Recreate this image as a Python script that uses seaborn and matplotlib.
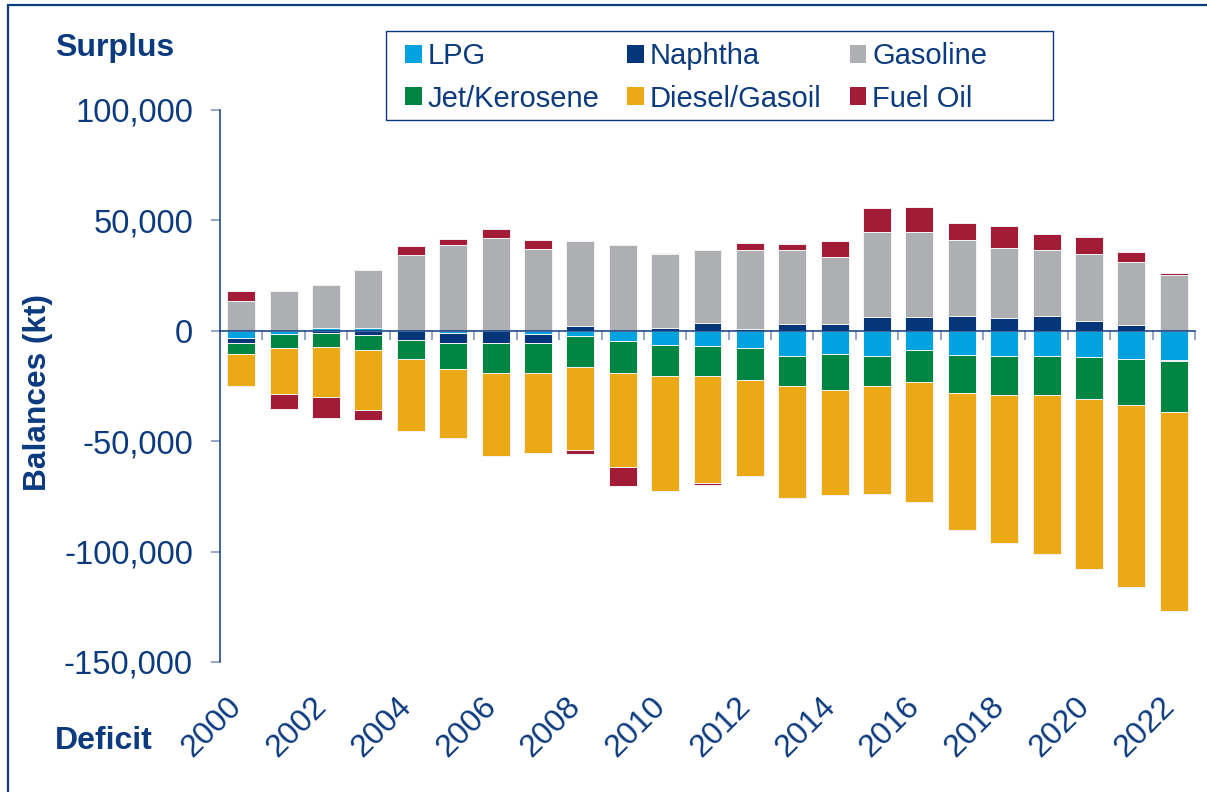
"""
Refined product balances by year, stacked surplus / deficit bars.
"""

import matplotlib

matplotlib.use("Agg")
import matplotlib.pyplot as plt
import matplotlib.transforms as mtransforms
import numpy as np
import pandas as pd
import seaborn as sns
from matplotlib.patches import Patch, Rectangle
from matplotlib.ticker import FuncFormatter

YEARS = [str(y) for y in range(2000, 2023)]
SERIES = ["LPG", "Naphtha", "Gasoline", "Jet/Kerosene", "Diesel/Gasoil", "Fuel Oil"]

lpg = [-3300, -1400, 1200, 1100, 0, -1100, 0, -1500, -2400, -4400, -6500, -7100,
       -7700, -11500, -10600, -11500, -8500, -10900, -11500, -11500, -11800, -12700, -13300]
naphtha = [-2000, 0, -900, -2100, -4100, -4200, -5300, -3800, 2400, 0, 1100, 3600,
           600, 3200, 2900, 6200, 6200, 6600, 5900, 6600, 4500, 2600, -600]
gasoline = [13700, 17800, 19500, 26500, 34300, 38700, 42100, 37100, 38200, 38800, 33800, 33200,
            35900, 33200, 30400, 38700, 38700, 34300, 31600, 30100, 30200, 28500, 25200]
jet = [-5400, -6600, -6650, -6800, -8600, -12200, -13600, -13900, -14200, -14900, -13900, -13300,
       -14600, -13700, -16000, -13600, -14500, -17100, -17700, -17800, -19200, -21100, -22700]
diesel = [-14200, -20800, -22650, -27000, -32500, -31200, -37600, -36100, -37200, -42500, -52300, -48400,
          -43600, -50700, -47800, -49000, -54600, -62400, -66800, -71600, -77000, -82200, -90500]
fuel_oil = [4100, -6500, -9200, -4500, 4200, 3000, 3900, 3800, -2100, -8700, 300, -1200,
            3300, 2900, 7200, 10600, 11300, 7700, 10000, 7100, 8000, 4500, 800]

COLORS = {
    "LPG": "#00A3E0",
    "Naphtha": "#06367A",
    "Gasoline": "#AEAFB3",
    "Jet/Kerosene": "#008542",
    "Diesel/Gasoil": "#EAA915",
    "Fuel Oil": "#A31C37",
}
TEXT = "#0B3A7E"
W, H = 1207, 792


def main():
    sns.set_theme(style="white")
    plt.rcParams["font.family"] = ["Liberation Sans", "DejaVu Sans"]

    df = pd.DataFrame(
        dict(zip(SERIES, [lpg, naphtha, gasoline, jet, diesel, fuel_oil])), index=YEARS
    )
    pos = df.clip(lower=0).cumsum(axis=1)
    neg = df.clip(upper=0).cumsum(axis=1)

    fig = plt.figure(figsize=(W / 100, H / 100), dpi=100)
    ax = fig.add_axes([220 / W, 1 - 662 / H, 975 / W, 552 / H])

    # overlay cumulative totals, outermost layer first
    for part in (pos, neg):
        for name in reversed(SERIES):
            sns.barplot(
                x=YEARS, y=part[name].values, order=YEARS, color=COLORS[name],
                saturation=1, width=0.66, errorbar=None, edgecolor="#f4f4f4",
                linewidth=0.7, ax=ax,
            )

    ax.set_xlim(-0.5, 22.5)
    ax.set_ylim(-150000, 100000)
    ax.set_yticks(np.arange(-150000, 100001, 50000))
    ax.yaxis.set_major_formatter(FuncFormatter(lambda v, _: f"{v:,.0f}"))
    ax.set_xlabel("")
    ax.set_ylabel("")

    for s in ("top", "right"):
        ax.spines[s].set_visible(False)
    ax.spines["left"].set_color(TEXT)
    ax.spines["left"].set_linewidth(1.1)
    ax.spines["bottom"].set_position(("data", 0))
    ax.spines["bottom"].set_color(TEXT)
    ax.spines["bottom"].set_linewidth(1.1)

    ax.set_xticks([])
    ax.set_xticks(np.arange(0.5, 23, 1), minor=True)
    ax.tick_params(axis="x", which="minor", direction="out", length=6.5, width=1.2,
                   color="#8497C2", bottom=True)
    ax.tick_params(axis="y", direction="out", length=6.5, width=1.2, color="#8497C2",
                   left=True, labelsize=23.5, labelcolor=TEXT, pad=13)

    sec = ax.secondary_xaxis("bottom")
    sec.set_xticks(range(0, 23, 2), labels=YEARS[::2])
    sec.spines["bottom"].set_visible(False)
    sec.tick_params(length=0, pad=29, labelsize=23, labelcolor=TEXT)
    shift = mtransforms.ScaledTranslation(-0.04, 0, fig.dpi_scale_trans)
    for lab in sec.get_xticklabels():
        lab.set_rotation(45)
        lab.set_ha("right")
        lab.set_va("center")
        lab.set_rotation_mode("anchor")
        lab.set_transform(lab.get_transform() + shift)

    fig.text(38 / W, 1 - 392 / H, "Balances (kt)", rotation=90, ha="center",
             va="center", fontsize=22.75, fontweight="bold", color=TEXT)
    fig.text(55 / W, 1 - 48 / H, "Surplus", ha="left", va="center",
             fontsize=23, fontweight="bold", color=TEXT)
    fig.text(55 / W, 1 - 741 / H, "Deficit", ha="left", va="center",
             fontsize=23, fontweight="bold", color=TEXT)

    order = ["LPG", "Jet/Kerosene", "Naphtha", "Diesel/Gasoil", "Gasoline", "Fuel Oil"]
    handles = [Patch(facecolor=COLORS[n], edgecolor="none") for n in order]
    fig.legend(
        handles, order, ncol=3, loc="upper left",
        bbox_to_anchor=(405 / W, 1 - 42 / H), frameon=False, fontsize=21,
        handlelength=0.58, handleheight=0.58, handletextpad=0.2,
        columnspacing=0.95, labelspacing=0.5, borderpad=0, borderaxespad=0,
        labelcolor=TEXT,
    )
    fig.patches.append(Rectangle((386 / W, 1 - 120 / H), 667 / W, 89 / H,
                                 transform=fig.transFigure, fill=False,
                                 edgecolor=TEXT, linewidth=1.0))
    fig.patches.append(Rectangle((8 / W, -0.05), 1.2, 1.05 - 5 / H,
                                 transform=fig.transFigure, fill=False,
                                 edgecolor=TEXT, linewidth=1.6, clip_on=False))

    fig.savefig("out.png", dpi=100)


if __name__ == "__main__":
    main()
